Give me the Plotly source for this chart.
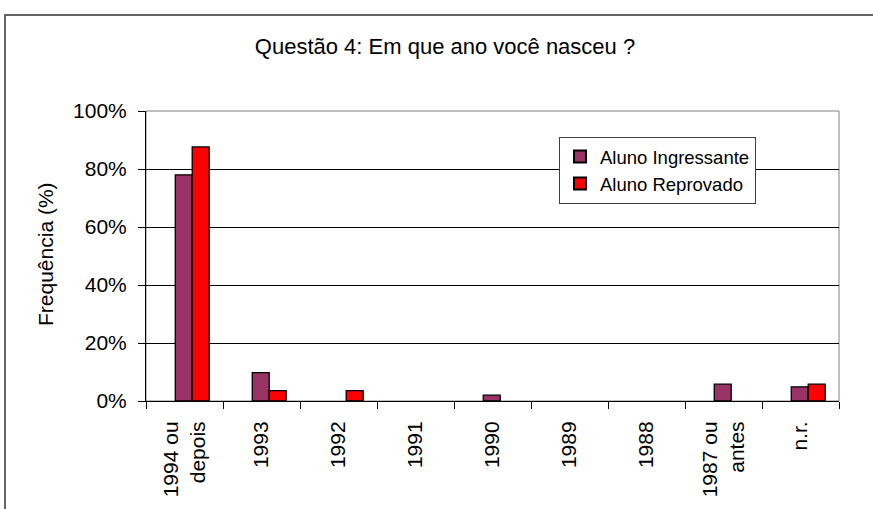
import plotly.graph_objects as go

categories = ["1994 ou<br>depois", "1993", "1992", "1991", "1990", "1989", "1988", "1987 ou<br>antes", "n.r."]
ingressante = [78.0, 9.8, 0, 0, 2.0, 0, 0, 5.8, 4.9]
reprovado = [87.6, 3.6, 3.6, 0, 0, 0, 0, 0, 5.8]
y_ticks = [0, 20, 40, 60, 80, 100]
y_tick_labels = [f"{v}%" for v in y_ticks]

W, H = 873, 509
L, R, T, B = 146, 34, 111, 108
pw, ph = W - L - R, H - T - B
FONT = "Liberation Sans, Arial, sans-serif"

def px_x(p):
    return (p - L) / pw

def px_y(p):
    return (H - B - p) / ph

def outline(values):
    return [1.3 if v > 0 else 0 for v in values]

fig = go.Figure()
fig.add_trace(go.Bar(
    x=categories, y=ingressante, name="Aluno Ingressante",
    marker=dict(color="#993366", line=dict(color="#000000", width=outline(ingressante))),
    width=0.22, offset=-0.12,
))
fig.add_trace(go.Bar(
    x=categories, y=reprovado, name="Aluno Reprovado",
    marker=dict(color="#FF0000", line=dict(color="#000000", width=outline(reprovado))),
    width=0.22, offset=0.10,
))

fig.update_layout(
    width=W, height=H,
    margin=dict(l=L, r=R, t=T, b=B, autoexpand=False),
    paper_bgcolor="white", plot_bgcolor="white",
    barmode="overlay",
    font=dict(family=FONT, size=21, color="#000000"),
    title=dict(text="Questão 4: Em que ano você nasceu ?", x=445 / W, xanchor="center",
               y=1 - 46 / H, yanchor="middle", yref="container",
               font=dict(family=FONT, size=22, color="#000000")),
    showlegend=True,
    legend=dict(x=px_x(559), y=px_y(137), xanchor="left", yanchor="top",
                bgcolor="white", bordercolor="#404040", borderwidth=1,
                font=dict(family=FONT, size=18.5, color="#000000"),
                itemsizing="constant"),
    xaxis=dict(
        type="category", tickangle=-90, showgrid=False,
        showline=True, linecolor="#000000", linewidth=1,
        ticks="outside", ticklen=7, tickcolor="#000000", tickson="boundaries",
        ticklabelstandoff=11,
        tickfont=dict(family=FONT, size=21, color="#000000"),
        range=[-0.5, len(categories) - 0.5], automargin=False,
    ),
    yaxis=dict(
        range=[0, 100], tickvals=y_ticks, ticktext=y_tick_labels,
        showgrid=True, gridcolor="#000000", gridwidth=1,
        showline=True, linecolor="#000000", linewidth=1,
        ticks="outside", ticklen=7, tickcolor="#000000",
        ticklabelstandoff=7,
        tickfont=dict(family=FONT, size=21, color="#000000"),
        zeroline=False, automargin=False,
    ),
    shapes=[
        dict(type="rect", xref="paper", yref="paper", x0=0, x1=1, y0=0, y1=1,
             line=dict(color="#808080", width=1), layer="below"),
        dict(type="rect", xref="paper", yref="paper", x0=px_x(5), x1=px_x(W + 50),
             y0=px_y(H + 50), y1=px_y(15),
             line=dict(color="#333333", width=1.5), layer="below"),
    ],
    annotations=[
        dict(text="Frequência (%)", xref="paper", yref="paper", x=px_x(45), y=px_y(254),
             xanchor="center", yanchor="middle", textangle=-90, showarrow=False,
             font=dict(family=FONT, size=21, color="#000000")),
    ],
)

fig.write_html("out.html",
               config={"displayModeBar": False},
               post_script="document.body.style.margin='0px';document.body.style.overflow='hidden';")
